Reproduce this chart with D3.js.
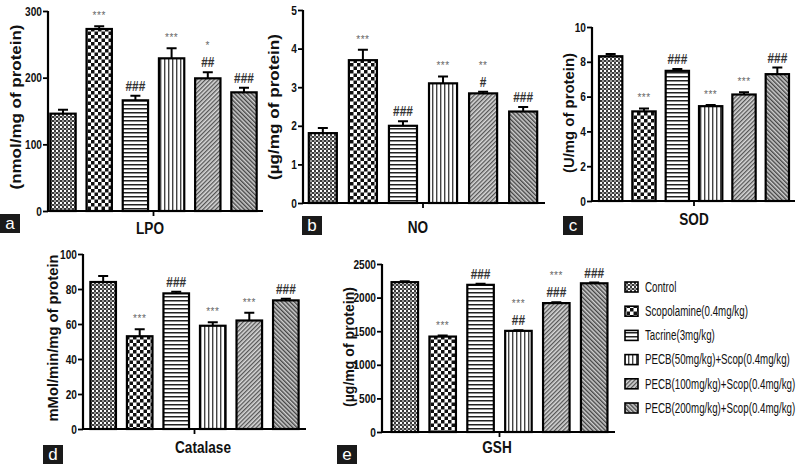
<!DOCTYPE html>
<html><head><meta charset="utf-8">
<script src="https://cdn.jsdelivr.net/npm/d3@7"></script>
<style>
body{margin:0;background:#fff;}
svg{display:block;font-family:"Liberation Sans",Arial,sans-serif;}
</style></head>
<body><svg id="c" width="798" height="465"></svg>
<script>
const groups = ["Control","Scopolamine(0.4mg/kg)","Tacrine(3mg/kg)","PECB(50mg/kg)+Scop(0.4mg/kg)","PECB(100mg/kg)+Scop(0.4mg/kg)","PECB(200mg/kg)+Scop(0.4mg/kg)"];

const lpoMean = [146, 273, 166, 229, 199, 178];
const lpoErr  = [6, 4, 7, 15, 9, 7];
const lpoStars = ["", "***", "", "***", "*", ""];
const lpoHash  = ["", "", "###", "", "##", "###"];
const lpoTicks = [0, 100, 200, 300];

const noMean = [1.81, 3.70, 2.00, 3.10, 2.84, 2.37];
const noErr  = [0.13, 0.27, 0.12, 0.18, 0.04, 0.12];
const noStars = ["", "***", "", "***", "**", ""];
const noHash  = ["", "", "###", "", "#", "###"];
const noTicks = [0, 1, 2, 3, 4, 5];

const sodMean = [8.32, 5.15, 7.48, 5.45, 6.12, 7.29];
const sodErr  = [0.13, 0.17, 0.10, 0.07, 0.13, 0.38];
const sodStars = ["", "***", "", "***", "***", ""];
const sodHash  = ["", "", "###", "", "", "###"];
const sodTicks = [0, 2, 4, 6, 8, 10];

const catMean = [84, 53, 77.5, 59, 62, 73.5];
const catErr  = [3.5, 4, 1, 2, 4.5, 1];
const catStars = ["", "***", "", "***", "***", ""];
const catHash  = ["", "", "###", "", "", "###"];
const catTicks = [0, 20, 40, 60, 80, 100];

const gshMean = [2230, 1420, 2190, 1505, 1918, 2213];
const gshErr  = [15, 15, 15, 8, 12, 10];
const gshStars = ["", "***", "", "***", "***", ""];
const gshHash  = ["", "", "###", "##", "###", "###"];
const gshTicks = [0, 500, 1000, 1500, 2000, 2500];

const svg = d3.select("#c");
svg.append("rect").attr("width",798).attr("height",465).attr("fill","#fff");
const defs = svg.append("defs");

function condense(sel, f){
  sel.each(function(){
    const x = +this.getAttribute("x")||0, y = +this.getAttribute("y")||0;
    this.setAttribute("x",0); this.setAttribute("y",0);
    this.setAttribute("transform",`translate(${x},${y}) scale(${f},1)`);
  });
}
function fitTo(sel, len){
  sel.attr("textLength", len).attr("lengthAdjust","spacingAndGlyphs");
}

function pat(id, w, h, build){
  const p = defs.append("pattern").attr("id",id).attr("patternUnits","userSpaceOnUse").attr("width",w).attr("height",h);
  p.append("rect").attr("width",w).attr("height",h).attr("fill","#fff");
  build(p);
}
pat("p0",4,4,p=>{p.append("rect").attr("width",2).attr("height",2).attr("fill","#3a3a3a");p.append("rect").attr("x",2).attr("y",2).attr("width",2).attr("height",2).attr("fill","#3a3a3a");p.append("rect").attr("x",2).attr("width",2).attr("height",2).attr("fill","#999");});
pat("p1",7,7,p=>{p.append("rect").attr("width",3.5).attr("height",3.5).attr("fill","#111");p.append("rect").attr("x",3.5).attr("y",3.5).attr("width",3.5).attr("height",3.5).attr("fill","#111");});
pat("p2",4,4,p=>{p.append("rect").attr("y",0).attr("width",4).attr("height",1.5).attr("fill","#222");});
pat("p3",4,4,p=>{p.append("rect").attr("x",0).attr("width",1.4).attr("height",4).attr("fill","#444");});
pat("p4",3,3,p=>{p.attr("patternTransform","rotate(45)");p.select("rect").attr("fill","#d8d8d8");p.append("rect").attr("width",1.3).attr("height",3).attr("fill","#555");});
pat("p5",3,3,p=>{p.attr("patternTransform","rotate(-45)");p.select("rect").attr("fill","#cfcfcf");p.append("rect").attr("width",1.4).attr("height",3).attr("fill","#444");});

const panels = [
  {mean:lpoMean, err:lpoErr, stars:lpoStars, hash:lpoHash, ticks:lpoTicks, ax:48, ax1:263, bx:[46,261], top:11, bot:211, yl:"(nmol/mg of protein)", ylx:15, ylc:107, yll:165, xl:"LPO", xlx:150, xly:234, tag:"a", tx:0, ty:214},
  {mean:noMean, err:noErr, stars:noStars, hash:noHash, ticks:noTicks, ax:303, ax1:545, bx:[304,542], top:10, bot:203, yl:"(µg/mg of protein)", ylx:273, ylc:107, yll:146, xl:"NO", xlx:418, xly:233, tag:"b", tx:302, ty:216},
  {mean:sodMean, err:sodErr, stars:sodStars, hash:sodHash, ticks:sodTicks, ax:592, ax1:795, bx:[595,793], top:27, bot:201, yl:"(U/mg of protein)", ylx:568, ylc:113, yll:120, xl:"SOD", xlx:694, xly:225, tag:"c", tx:563, ty:216},
  {mean:catMean, err:catErr, stars:catStars, hash:catHash, ticks:catTicks, ax:83, ax1:306, bx:[86,303], top:254, bot:429, yl:"mMol/min/mg of protein", ylx:52, ylc:338, yll:167, xl:"Catalase", xlx:203, xly:453, tag:"d", tx:43, ty:445},
  {mean:gshMean, err:gshErr, stars:gshStars, hash:gshHash, ticks:gshTicks, ax:382, ax1:615, bx:[387,612], top:264, bot:432, yl:"(µg/mg of protein)", ylx:348, ylc:347, yll:120, xl:"GSH", xlx:497, xly:453, tag:"e", tx:337, ty:445}
];

panels.forEach(P=>{
  const g = svg.append("g");
  const x = d3.scaleBand().domain(groups).range(P.bx).paddingInner(0.3).paddingOuter(0.12);
  const y = d3.scaleLinear().domain([0, d3.max(P.ticks)]).range([P.bot, P.top]);
  const data = groups.map((k,i)=>({k, i, m:P.mean[i], e:P.err[i], s:P.stars[i], h:P.hash[i]}));

  g.selectAll("rect.bar").data(data).join("rect").attr("class","bar")
    .attr("x",d=>x(d.k)).attr("width",x.bandwidth())
    .attr("y",d=>y(d.m)).attr("height",d=>y(0)-y(d.m))
    .attr("fill",d=>`url(#p${d.i})`).attr("stroke","#000").attr("stroke-width",2.2);
  g.selectAll("path.err").data(data).join("path").attr("class","err")
    .attr("d",d=>{const cx=x(d.k)+x.bandwidth()/2, y0=y(d.m), y1=y(d.m+d.e);
      return `M${cx},${y0}V${y1}M${cx-5},${y1}H${cx+5}`;})
    .attr("stroke","#000").attr("stroke-width",2).attr("fill","none");
  data.forEach(d=>{
    const cx=x(d.k)+x.bandwidth()/2, et=y(d.m+d.e);
    let base = et-5;
    if(d.h){
      const t = g.append("text").attr("x",cx).attr("y",base).attr("text-anchor","middle")
        .attr("font-size",14).attr("font-weight","bold").attr("fill","#333").text(d.h);
      condense(t, 0.85);
      base -= 18;
    } else base = et-7;
    if(d.s){
      g.append("text").attr("x",cx).attr("y",base).attr("text-anchor","middle")
        .attr("font-size",10).attr("fill","#666").attr("letter-spacing",0.5).text(d.s);
    }
  });

  const ya = g.append("g").attr("transform",`translate(${P.ax},0)`)
    .call(d3.axisLeft(y).tickValues(P.ticks).tickSize(5).tickSizeOuter(0).tickFormat(d3.format("d")));
  ya.select(".domain").attr("stroke-width",2.2).attr("d",`M0,${P.bot}V${P.top}`);
  ya.selectAll(".tick line").attr("stroke-width",1.8);
  const tt = ya.selectAll(".tick text").attr("font-size",13).attr("font-weight","bold").attr("fill","#111").attr("x",-6)
    .attr("font-family","'Liberation Sans',Arial,sans-serif");
  condense(tt, 0.78);

  g.append("line").attr("x1",P.ax).attr("x2",P.ax1).attr("y1",P.bot).attr("y2",P.bot).attr("stroke","#000").attr("stroke-width",2.2);
  const mid = (P.bx[0]+P.bx[1])/2;
  g.append("line").attr("x1",mid).attr("x2",mid).attr("y1",P.bot).attr("y2",P.bot+5).attr("stroke","#000").attr("stroke-width",1.8);

  const yl = g.append("text").attr("transform",`translate(${P.ylx},${P.ylc}) rotate(-90)`)
    .attr("text-anchor","middle").attr("dominant-baseline","central")
    .attr("font-size",15).attr("font-weight","bold").attr("fill","#111").text(P.yl);
  fitTo(yl, P.yll);
  const xl = g.append("text").attr("x",P.xlx).attr("y",P.xly).attr("text-anchor","middle")
    .attr("font-size",17).attr("font-weight","bold").attr("fill","#111").text(P.xl);
  condense(xl, 0.8);

  g.append("rect").attr("x",P.tx).attr("y",P.ty).attr("width",20).attr("height",19).attr("fill","#1a1a1a");
  g.append("text").attr("x",P.tx+10).attr("y",P.ty+15).attr("text-anchor","middle")
    .attr("font-size",17).attr("fill","#fff").text(P.tag);
});

const lg = svg.append("g");
groups.forEach((k,i)=>{
  const yy = 287 + i*24.2;
  lg.append("rect").attr("x",625).attr("y",yy-5).attr("width",13).attr("height",10)
    .attr("fill",`url(#p${i})`).attr("stroke","#000").attr("stroke-width",1.6);
  const t = lg.append("text").attr("x",645).attr("y",yy).attr("dominant-baseline","central")
    .attr("font-size",15).attr("fill","#111").text(k);
  condense(t, 0.65);
});
</script></body></html>
